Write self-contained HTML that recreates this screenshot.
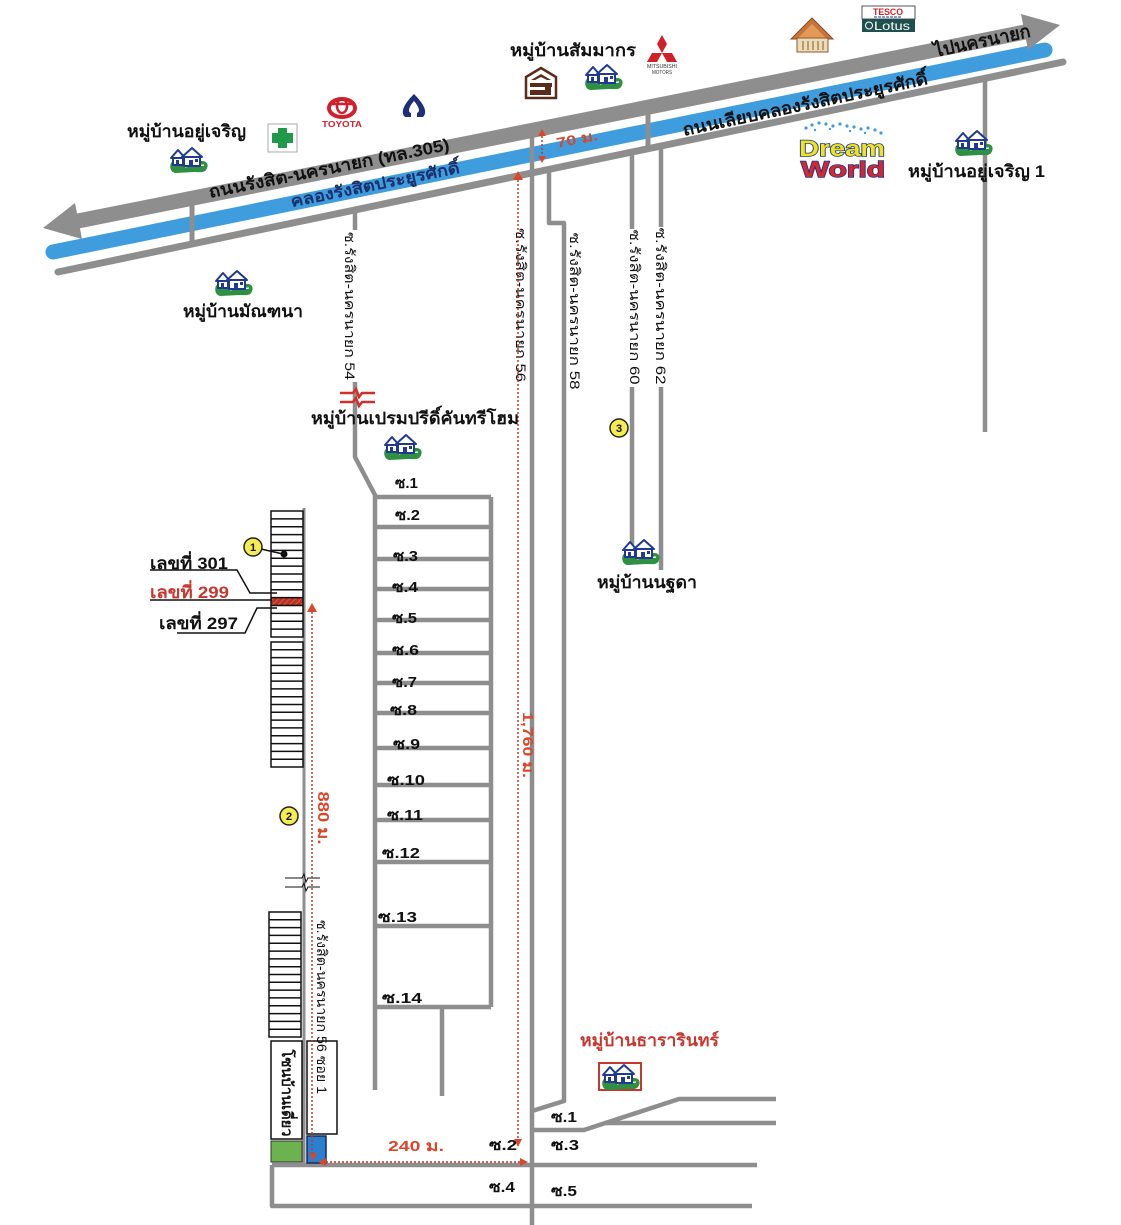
<!DOCTYPE html>
<html><head><meta charset="utf-8">
<style>
html,body{margin:0;padding:0;background:#fff;}
svg{display:block;}
text{font-family:"Liberation Sans","DejaVu Sans",sans-serif;}
.b{font-weight:bold;}
</style></head><body>
<svg width="1121" height="1225" viewBox="0 0 1121 1225" xmlns="http://www.w3.org/2000/svg">
<defs>
 <g id="hs">
  <path d="M3,17 C6,13 12,15 16,16 L34,15 C40,15 41,20 38,24 C36,27 30,26 26,26 L8,27 C3,27 1,21 3,17 Z" fill="#2f8f43"/>
  <path d="M17,21 C23,19 30,20 36,19" stroke="#fff" stroke-width="1.2" fill="none"/>
  <g fill="#fff" stroke="#1f3a8f" stroke-width="2" stroke-linejoin="round">
   <path d="M3,12 L10,4 L17,12 Z"/>
   <rect x="5" y="12" width="10" height="7"/>
   <path d="M14,11 L24,2 L34,11 Z"/>
   <rect x="16" y="11" width="16" height="9"/>
  </g>
  <rect x="21" y="14" width="4" height="6" fill="#1f3a8f"/>
  <rect x="27" y="13" width="3" height="3" fill="#1f3a8f"/>
  <rect x="8" y="14" width="3" height="5" fill="#1f3a8f"/>
 </g>
 <pattern id="hatch" width="4" height="4" patternUnits="userSpaceOnUse" patternTransform="rotate(45)">
  <rect width="4" height="4" fill="#b83226"/>
  <line x1="0" y1="0" x2="0" y2="4" stroke="#e4725a" stroke-width="1.2"/>
 </pattern>
</defs>

<!-- ===== main roads ===== -->
<line x1="58" y1="272" x2="1063" y2="62" stroke="#8e8e8e" stroke-width="7" stroke-linecap="round"/>
<line x1="53" y1="252" x2="1045" y2="50" stroke="#3f9ddd" stroke-width="15" stroke-linecap="round"/>
<line x1="78" y1="221" x2="1025" y2="32" stroke="#8e8e8e" stroke-width="15"/>
<polygon points="43,228 82,239 75,203" fill="#8e8e8e"/>
<polygon points="1060,25 1021,14 1028,50" fill="#8e8e8e"/>

<!-- connectors across canal -->
<g stroke="#8e8e8e" stroke-width="5">
 <line x1="192" y1="200" x2="192" y2="244"/>
 <line x1="648" y1="108" x2="648" y2="150"/>
</g>

<!-- vertical sois -->
<g stroke="#8e8e8e" stroke-width="4.5" fill="none" stroke-linejoin="round">
 <polyline points="355,210 355,457 375,495 375,1090"/>
 <line x1="375" y1="497" x2="491" y2="497"/>
 <line x1="491" y1="497" x2="491" y2="1007"/>
 <line x1="375" y1="527" x2="491" y2="527"/>
 <line x1="375" y1="559" x2="491" y2="559"/>
 <line x1="375" y1="589" x2="491" y2="589"/>
 <line x1="375" y1="620" x2="491" y2="620"/>
 <line x1="375" y1="653" x2="491" y2="653"/>
 <line x1="375" y1="683" x2="491" y2="683"/>
 <line x1="375" y1="713" x2="491" y2="713"/>
 <line x1="375" y1="748" x2="491" y2="748"/>
 <line x1="375" y1="785" x2="491" y2="785"/>
 <line x1="375" y1="820" x2="491" y2="820"/>
 <line x1="375" y1="862" x2="491" y2="862"/>
 <line x1="375" y1="926" x2="491" y2="926"/>
 <line x1="375" y1="1007" x2="491" y2="1007"/>
 <line x1="442" y1="1007" x2="442" y2="1096"/>
 <line x1="532" y1="128" x2="532" y2="1225"/>
 <polyline points="549,168 549,223 564,223 564,1101 532,1111"/>
 <line x1="632" y1="152" x2="632" y2="545"/>
 <line x1="661" y1="146" x2="661" y2="570"/>
 <line x1="985" y1="78" x2="985" y2="432"/>
 <!-- bottom roads -->
 <polyline points="272,1165 757,1165"/>
 <polyline points="272,1165 272,1206 752,1206"/>
 <polyline points="532,1130 584,1130 679,1099 776,1099"/>
 <line x1="605" y1="1123" x2="776" y2="1123"/>
</g>

<!-- strip road -->
<line x1="304" y1="508" x2="304" y2="1165" stroke="#8e8e8e" stroke-width="3"/>

<!-- ===== road labels ===== -->
<g class="b">
 <text transform="translate(329,168) rotate(-11.3)" x="0" y="6" text-anchor="middle" font-size="17" textLength="245" lengthAdjust="spacingAndGlyphs" fill="#111">ถนนรังสิต-นครนายก (ทล.305)</text>
 <text transform="translate(375,184) rotate(-11.5)" x="0" y="6" text-anchor="middle" font-size="16" textLength="172" lengthAdjust="spacingAndGlyphs" fill="#1b2f6b">คลองรังสิตประยูรศักดิ์</text>
 <text transform="translate(805,104) rotate(-12)" x="0" y="6" text-anchor="middle" font-size="17" textLength="250" lengthAdjust="spacingAndGlyphs" fill="#111">ถนนเลียบคลองรังสิตประยูรศักดิ์</text>
 <text transform="translate(982,40) rotate(-12)" x="0" y="7" text-anchor="middle" font-size="18" textLength="98" lengthAdjust="spacingAndGlyphs" fill="#111">ไปนครนายก</text>
 <text transform="translate(577,139) rotate(-11)" x="0" y="5" text-anchor="middle" font-size="14" textLength="42" lengthAdjust="spacingAndGlyphs" fill="#d9472b">70 ม.</text>
</g>

<!-- 70 m arrow -->
<g fill="#d9472b">
 <polygon points="542,129 538,136 546,136"/>
 <polygon points="542,163 538,156 546,156"/>
</g>
<line x1="542" y1="136" x2="542" y2="156" stroke="#c0392b" stroke-width="1.5" stroke-dasharray="2,2"/>

<!-- ===== vertical soi labels ===== -->
<g fill="#fff">
 <rect x="343" y="230" width="16" height="152"/>
 <rect x="627" y="229" width="16" height="158"/>
 <rect x="653" y="227" width="16" height="160"/>
</g>
<g font-size="14" fill="#111">
 <text transform="translate(350,306) rotate(90)" x="0" y="5" text-anchor="middle" textLength="148" lengthAdjust="spacingAndGlyphs">ซ.รังสิต-นครนายก 54</text>
 <text transform="translate(521,305) rotate(90)" x="0" y="5" text-anchor="middle" textLength="154" lengthAdjust="spacingAndGlyphs">ซ.รังสิต-นครนายก 56</text>
 <text transform="translate(575,311) rotate(90)" x="0" y="5" text-anchor="middle" textLength="157" lengthAdjust="spacingAndGlyphs">ซ.รังสิต-นครนายก 58</text>
 <text transform="translate(635,307) rotate(90)" x="0" y="5" text-anchor="middle" textLength="155" lengthAdjust="spacingAndGlyphs">ซ.รังสิต-นครนายก 60</text>
 <text transform="translate(661,306) rotate(90)" x="0" y="5" text-anchor="middle" textLength="157" lengthAdjust="spacingAndGlyphs">ซ.รังสิต-นครนายก 62</text>
</g>

<!-- red crossing mark on soi 54 -->
<g stroke="#d0302a" stroke-width="2.5" fill="none">
 <path d="M340,393 H353 L356,389 L359,397 L362,393 H375"/>
 <path d="M340,402 H353 L356,398 L359,406 L362,402 H375"/>
</g>

<!-- ===== 1,760 dotted ===== -->
<line x1="518" y1="180" x2="518" y2="1139" stroke="#c0392b" stroke-width="1.5" stroke-dasharray="2,2"/>
<g fill="#d9472b">
 <polygon points="518,171 513,180 523,180"/>
 <polygon points="518,1147 514,1139 522,1139"/>
</g>
<text class="b" transform="translate(528,745) rotate(90)" x="0" y="5" text-anchor="middle" font-size="15" fill="#d9472b" textLength="66" lengthAdjust="spacingAndGlyphs">1,760 ม.</text>

<!-- ===== strip blocks ===== -->
<rect x="271" y="597.6" width="32" height="7.9" fill="url(#hatch)"/>
<g fill="none" stroke="#111" stroke-width="1.5">
 <rect x="271" y="511" width="32" height="126"/>
 <rect x="271" y="642" width="32" height="125"/>
 <rect x="269" y="912" width="32" height="125"/>
 <path d="M271,518.9h32M271,526.8h32M271,534.6h32M271,542.5h32M271,550.4h32M271,558.3h32M271,566.1h32M271,574h32M271,581.9h32M271,589.8h32M271,597.6h32M271,605.5h32M271,613.4h32M271,621.3h32M271,629.1h32"/>
 <path d="M271,649.8h32M271,657.6h32M271,665.4h32M271,673.3h32M271,681.1h32M271,688.9h32M271,696.7h32M271,704.5h32M271,712.3h32M271,720.1h32M271,727.9h32M271,735.8h32M271,743.6h32M271,751.4h32M271,759.2h32"/>
 <path d="M269,919.8h32M269,927.6h32M269,935.4h32M269,943.3h32M269,951.1h32M269,958.9h32M269,966.7h32M269,974.5h32M269,982.3h32M269,990.1h32M269,997.9h32M269,1005.8h32M269,1013.6h32M269,1021.4h32M269,1029.2h32"/>
 <rect x="271" y="1041" width="31" height="98" stroke-width="1.5"/>
 <rect x="307" y="1041" width="30" height="93" stroke-width="1.5"/>
</g>
<rect x="271" y="1141" width="31" height="21" fill="#6cb24e" stroke="#333" stroke-width="1"/>
<rect x="307" y="1136" width="19" height="27" fill="#2a7fd0" stroke="#1a2a55" stroke-width="1.5"/>

<!-- leader lines -->
<g fill="none" stroke="#111" stroke-width="1.5">
 <polyline points="150,570 237,570 250,593 277,593"/>
 <line x1="150" y1="600" x2="272" y2="600"/>
 <polyline points="177,633 245,633 257,608 277,608"/>
 <line x1="261" y1="549" x2="283" y2="554"/>
</g>
<circle cx="284" cy="554" r="3.5" fill="#111"/>

<!-- break marks on strip road -->
<g stroke="#111" stroke-width="1" fill="none">
 <path d="M285,878 H302 L304,874 L306,882 L308,878 H320"/>
 <path d="M285,887 H302 L304,883 L306,891 L308,887 H320"/>
</g>

<!-- 880 dotted -->
<line x1="312" y1="612" x2="312" y2="1153" stroke="#c0392b" stroke-width="1.5" stroke-dasharray="2,2"/>
<g fill="#d9472b">
 <polygon points="312,603 307,612 317,612"/>
 <polygon points="313,1161 309,1153 317,1153"/>
</g>
<text class="b" transform="translate(323,818) rotate(90)" x="0" y="5" text-anchor="middle" font-size="16" fill="#d9472b" textLength="53" lengthAdjust="spacingAndGlyphs">880 ม.</text>

<!-- 240 dotted -->
<line x1="326" y1="1162" x2="520" y2="1162" stroke="#c0392b" stroke-width="1.5" stroke-dasharray="2,2"/>
<g fill="#d9472b">
 <polygon points="318,1162 326,1158 326,1166"/>
 <polygon points="528,1162 520,1158 520,1166"/>
</g>

<!-- rotated labels bottom-left -->
<text transform="translate(322,1007) rotate(90)" x="0" y="5" text-anchor="middle" font-size="14" fill="#111" textLength="174" lengthAdjust="spacingAndGlyphs">ซ.รังสิต-นครนายก 56 ซอย 1</text>
<text class="b" transform="translate(287,1093) rotate(90)" x="0" y="5" text-anchor="middle" font-size="15" fill="#111" textLength="87" lengthAdjust="spacingAndGlyphs">โซนบ้านเดี่ยว</text>

<!-- ===== soi labels ===== -->
<g class="b" font-size="15" fill="#111">
 <text x="395" y="488" textLength="23" lengthAdjust="spacingAndGlyphs">ซ.1</text>
 <text x="395" y="520" textLength="25" lengthAdjust="spacingAndGlyphs">ซ.2</text>
 <text x="393" y="561" textLength="25" lengthAdjust="spacingAndGlyphs">ซ.3</text>
 <text x="392" y="592" textLength="26" lengthAdjust="spacingAndGlyphs">ซ.4</text>
 <text x="392" y="623" textLength="25" lengthAdjust="spacingAndGlyphs">ซ.5</text>
 <text x="392" y="655" textLength="27" lengthAdjust="spacingAndGlyphs">ซ.6</text>
 <text x="392" y="687" textLength="25" lengthAdjust="spacingAndGlyphs">ซ.7</text>
 <text x="390" y="715" textLength="27" lengthAdjust="spacingAndGlyphs">ซ.8</text>
 <text x="393" y="749" textLength="27" lengthAdjust="spacingAndGlyphs">ซ.9</text>
 <text x="387" y="785" textLength="38" lengthAdjust="spacingAndGlyphs">ซ.10</text>
 <text x="387" y="820" textLength="36" lengthAdjust="spacingAndGlyphs">ซ.11</text>
 <text x="382" y="858" textLength="38" lengthAdjust="spacingAndGlyphs">ซ.12</text>
 <text x="378" y="922" textLength="39" lengthAdjust="spacingAndGlyphs">ซ.13</text>
 <text x="382" y="1003" textLength="40" lengthAdjust="spacingAndGlyphs">ซ.14</text>
 <text x="551" y="1122" textLength="26" lengthAdjust="spacingAndGlyphs">ซ.1</text>
 <text x="489" y="1150" textLength="28" lengthAdjust="spacingAndGlyphs">ซ.2</text>
 <text x="551" y="1150" textLength="28" lengthAdjust="spacingAndGlyphs">ซ.3</text>
 <text x="489" y="1192" textLength="26" lengthAdjust="spacingAndGlyphs">ซ.4</text>
 <text x="551" y="1196" textLength="26" lengthAdjust="spacingAndGlyphs">ซ.5</text>
 <text x="388" y="1151" textLength="56" lengthAdjust="spacingAndGlyphs" fill="#d9472b">240 ม.</text>
</g>

<!-- ===== place labels ===== -->
<g class="b" font-size="17" fill="#111">
 <text x="127" y="137" textLength="119" lengthAdjust="spacingAndGlyphs">หมู่บ้านอยู่เจริญ</text>
 <text x="510" y="56" textLength="126" lengthAdjust="spacingAndGlyphs">หมู่บ้านสัมมากร</text>
 <text x="908" y="177" textLength="137" lengthAdjust="spacingAndGlyphs">หมู่บ้านอยู่เจริญ 1</text>
 <text x="183" y="317" textLength="120" lengthAdjust="spacingAndGlyphs">หมู่บ้านมัณฑนา</text>
 <text x="311" y="424" textLength="208" lengthAdjust="spacingAndGlyphs">หมู่บ้านเปรมปรีดิ์คันทรีโฮม</text>
 <text x="597" y="588" textLength="100" lengthAdjust="spacingAndGlyphs">หมู่บ้านนฐดา</text>
 <text x="580" y="1046" textLength="139" lengthAdjust="spacingAndGlyphs" fill="#c8372d">หมู่บ้านธารารินทร์</text>
 <text x="150" y="569" textLength="78" lengthAdjust="spacingAndGlyphs">เลขที่ 301</text>
 <text x="150" y="598" textLength="79" lengthAdjust="spacingAndGlyphs" fill="#c8372d">เลขที่ 299</text>
 <text x="159" y="629" textLength="79" lengthAdjust="spacingAndGlyphs">เลขที่ 297</text>
</g>

<!-- ===== house icons ===== -->
<use href="#hs" x="168" y="146"/>
<use href="#hs" x="213" y="269"/>
<use href="#hs" x="583" y="63"/>
<use href="#hs" x="953" y="129"/>
<use href="#hs" x="382" y="433"/>
<use href="#hs" x="620" y="538"/>
<rect x="599" y="1063" width="42" height="27" fill="#fff" stroke="#c8372d" stroke-width="2"/>
<use href="#hs" x="600" y="1063"/>

<!-- numbered circles -->
<g stroke="#222" stroke-width="1.5" fill="#f5ec4f">
 <circle cx="253" cy="547" r="9"/>
 <circle cx="289" cy="816" r="9"/>
 <circle cx="619" cy="428" r="9"/>
</g>
<g class="b" font-size="11" fill="#111" text-anchor="middle">
 <text x="253" y="551">1</text>
 <text x="289" y="820">2</text>
 <text x="619" y="432">3</text>
</g>

<!-- ===== logos ===== -->
<!-- green cross -->
<rect x="268" y="124" width="29" height="28" fill="#fff" stroke="#aaa" stroke-width="1"/>
<rect x="278" y="128" width="9" height="20" fill="#1e9a48"/>
<rect x="272" y="133" width="21" height="10" fill="#1e9a48"/>
<!-- toyota -->
<ellipse cx="342" cy="108" rx="13" ry="9" fill="none" stroke="#d0202a" stroke-width="4"/>
<ellipse cx="342" cy="106" rx="5" ry="7" fill="none" stroke="#d0202a" stroke-width="2.5"/>
<line x1="331" y1="104" x2="353" y2="104" stroke="#d0202a" stroke-width="2.5"/>
<text x="342" y="127" text-anchor="middle" font-size="8" class="b" fill="#d0202a" textLength="40" lengthAdjust="spacingAndGlyphs">TOYOTA</text>
<!-- scb -->
<path d="M414,94 C404,104 400,112 405,117 L411,117 L411,113 C408,112 408,108 414,101 C420,108 420,112 417,113 L417,117 L423,117 C428,112 424,104 414,94 Z" fill="#1d2f7a"/>
<!-- brown logo -->
<polygon points="541,68 556,77 556,98 526,98 526,77" fill="#fff" stroke="#5a2d1a" stroke-width="2.5"/>
<path d="M531,80 L541,74 L551,80 L547,80 L541,77 L535,80 Z" fill="#5a2d1a"/>
<rect x="530" y="83" width="22" height="4" fill="#5a2d1a"/>
<path d="M530,90 H545 V86 H551 V95 H530 Z" fill="#5a2d1a"/>
<!-- mitsubishi -->
<g fill="#d0202a">
 <polygon points="662,35 667,44 662,53 657,44"/>
 <polygon points="662,53 657,62 647,62 652,53"/>
 <polygon points="662,53 672,53 677,62 667,62"/>
</g>
<text x="662" y="68" text-anchor="middle" font-size="5" fill="#333" textLength="30" lengthAdjust="spacingAndGlyphs">MITSUBISHI</text>
<text x="662" y="74" text-anchor="middle" font-size="5" fill="#333" textLength="20" lengthAdjust="spacingAndGlyphs">MOTORS</text>
<!-- temple -->
<polygon points="812,18 833,39 791,39" fill="#c8733a" stroke="#8a4a20" stroke-width="1"/>
<polygon points="812,24 826,38 798,38" fill="#e39a58"/>
<rect x="797" y="38" width="31" height="14" fill="#ecdcb8" stroke="#8a5a30" stroke-width="1"/>
<path d="M803,41v9M808,41v9M813,41v9M818,41v9M823,41v9" stroke="#8a5a30" stroke-width="1"/>
<!-- tesco lotus -->
<rect x="862" y="6" width="53" height="13" fill="#fff" stroke="#555" stroke-width="1"/>
<text x="888" y="15" text-anchor="middle" font-size="9" class="b" fill="#d0202a" textLength="30" lengthAdjust="spacingAndGlyphs">TESCO</text>
<line x1="874" y1="17" x2="902" y2="17" stroke="#1f3a8f" stroke-width="1" stroke-dasharray="3,1"/>
<rect x="862" y="19" width="53" height="13" fill="#1f4f4f"/>
<circle cx="869" cy="25.5" r="3.5" fill="none" stroke="#fff" stroke-width="1"/>
<text x="892" y="30" text-anchor="middle" font-family="Liberation Serif, serif" font-size="12" fill="#fff" textLength="36" lengthAdjust="spacingAndGlyphs">Lotus</text>
<!-- dream world -->
<g fill="#3f9ddd">
 <circle cx="806" cy="128" r="1.6"/><circle cx="812" cy="125" r="1.6"/><circle cx="819" cy="123" r="1.6"/>
 <circle cx="826" cy="124" r="1.6"/><circle cx="833" cy="126" r="1.6"/><circle cx="840" cy="124" r="1.6"/>
 <circle cx="847" cy="126" r="1.6"/><circle cx="854" cy="127" r="1.6"/><circle cx="861" cy="129" r="1.6"/>
 <circle cx="868" cy="128" r="1.6"/><circle cx="875" cy="130" r="1.6"/><circle cx="881" cy="133" r="1.6"/>
 <circle cx="815" cy="130" r="1.2"/><circle cx="830" cy="129" r="1.2"/><circle cx="850" cy="131" r="1.2"/><circle cx="865" cy="133" r="1.2"/>
</g>
<text x="799" y="156" font-size="22" class="b" fill="#f2e21a" stroke="#1b3a8c" stroke-width="1.5" paint-order="stroke" textLength="86" lengthAdjust="spacingAndGlyphs">Dream</text>
<text x="801" y="177" font-size="22" class="b" fill="#d8262e" stroke="#1b3a8c" stroke-width="1.5" paint-order="stroke" textLength="84" lengthAdjust="spacingAndGlyphs">World</text>
</svg>
</body></html>
